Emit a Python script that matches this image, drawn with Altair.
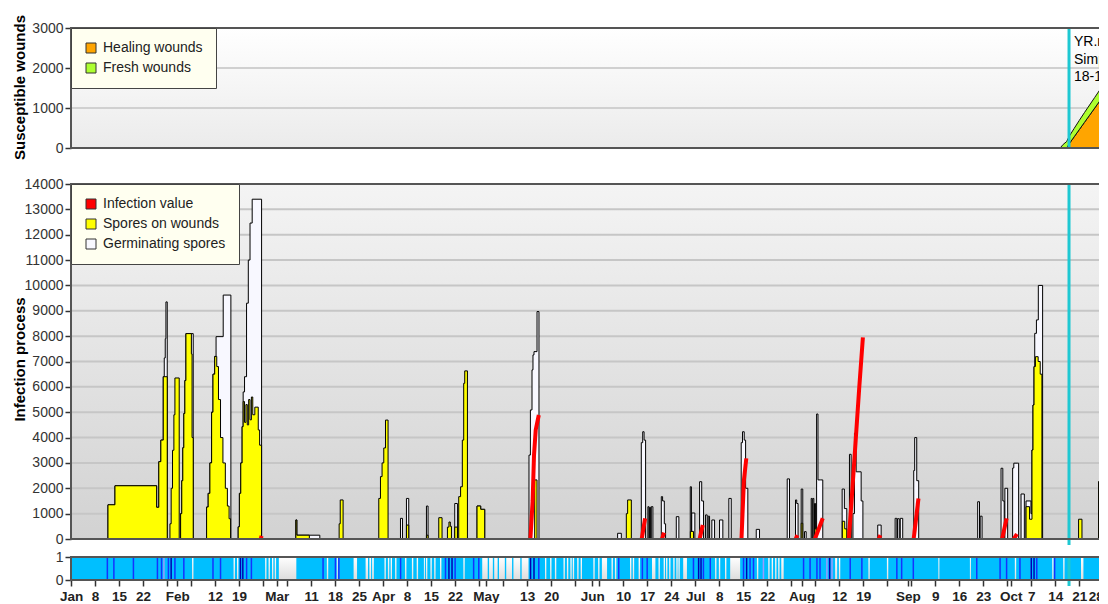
import json
import altair as alt
import pandas as pd

# ------------------------------------------------------------------ data
X_DOMAIN = [0, 301.2]          # days since Jan 1
MARKER_DAY = 291.0             # 18-10

TICK_DAYS = [0, 7, 14, 21, 28, 31, 35, 42, 49, 56, 60, 63, 70, 77, 84, 91, 98, 105, 112, 119,
             121, 126, 133, 140, 147, 152, 154, 161, 168, 175, 182, 189, 196, 203, 210, 213,
             217, 224, 231, 238, 244, 245, 252, 259, 266, 273, 274, 280, 287, 294, 301]
TICK_LABELS = ["Jan", "8", "15", "22", "", "Feb", "", "12", "19", "", "Mar", "", "11", "18", "25",
               "Apr", "8", "15", "22", "", "May", "", "13", "20", "", "Jun", "", "10", "17", "24",
               "Jul", "8", "15", "22", "", "Aug", "", "12", "19", "", "Sep", "", "9", "16", "23",
               "", "Oct", "7", "14", "21", "28"]

TOP_Y_TICKS = [0, 1000, 2000, 3000]
MID_Y_TICKS = list(range(0, 14001, 1000))
STRIP_Y_TICKS = [0, 1]

WOUND_DAYS = [288.4, 289.3, 290.3, 291.0, 292.5, 294.0, 295.5, 297.0, 298.5, 300.0, 301.2, 302.0]
HEALING = [0, 0, 0, 100, 280, 460, 640, 820, 1000, 1180, 1330, 1420]
FRESH = [0, 90, 160, 185, 210, 230, 245, 255, 265, 275, 280, 285]

SPORES = [
    [(10.78, 1350), (12.82, 2100), (24.97, 1250), (25.6, 3050), (26.2, 3900), (26.9, 6400), (28.06, 0)],
    [(28.85, 600), (29.2, 2000), (29.6, 3500), (30.0, 4900), (30.3, 6350), (31.55, 0)],
    [(31.96, 1000), (32.3, 2300), (32.6, 3600), (32.9, 4950), (33.2, 6250), (33.51, 8100), (35.1, 7300), (35.3, 4000), (35.64, 0)],
    [(39.54, 1260), (40.0, 1800), (40.5, 3000), (41.0, 5000), (41.4, 6500), (41.9, 7200), (42.5, 6800), (43.0, 5500),
     (43.6, 4000), (44.3, 3000), (45.0, 2000), (45.6, 1300), (46.1, 800), (46.53, 0)],
    [(48.75, 480), (49.1, 1800), (49.5, 3000), (49.9, 4430), (50.2, 5420), (50.6, 4600), (51.0, 5300), (51.4, 4500),
     (51.8, 5500), (52.2, 4700), (52.6, 5600), (53.0, 4900), (53.6, 5200), (54.6, 4300), (55.0, 3700), (55.57, 0)],
    [(65.56, 750), (65.85, 150), (69.5, 0)],
    [(78.18, 600), (78.5, 1540), (79.34, 0)],
    [(89.74, 1600), (90.23, 2460), (90.7, 3000), (91.2, 3590), (91.7, 4690), (92.45, 0)],
    [(97.81, 550), (98.48, 0)],
    [(103.64, 150), (104.11, 0)],
    [(107.23, 840), (108.19, 0)],
    [(109.76, 470), (110.2, 670), (110.6, 500), (110.93, 0)],
    [(111.89, 470), (112.67, 0)],
    [(113.05, 1670), (113.6, 2060), (114.1, 3900), (114.5, 6140), (114.8, 6630), (115.59, 0)],
    [(118.39, 1300), (119.46, 1170), (120.63, 0)],
    [(135.2, 2330), (135.88, 0)],
    [(161.92, 1000), (162.3, 1540), (163.38, 0)],
    [(180.6, 300), (181.5, 0)],
    [(212.91, 620), (213.37, 0)],
    [(216.9, 400), (217.4, 0)],
    [(224.9, 700), (225.6, 400), (226.2, 0), (227.0, 1000), (227.4, 0)],
    [(278.47, 1275), (279.5, 780), (280.2, 3510), (280.5, 5285), (280.8, 6800), (281.2, 7190), (282.0, 7000),
     (282.6, 6500), (283.1, 0)],
    [(293.79, 780), (294.78, 0)],
    [(299.62, 2260), (300.0, 4030), (302.0, 0)],
]

GERM = [
    [(10.78, 1350), (12.82, 2100), (24.97, 1250), (25.6, 3050), (26.2, 3900), (26.9, 6400), (27.19, 7140),
     (27.48, 7900), (27.68, 9350), (28.06, 0)],
    [(31.96, 1000), (32.3, 2300), (32.6, 3600), (32.9, 4950), (33.2, 6250), (33.51, 8100), (35.64, 0)],
    [(39.54, 1260), (40.0, 1800), (40.5, 3000), (41.0, 5000), (41.4, 6500), (41.9, 7200), (42.3, 7980), (44.38, 9620), (46.62, 0)],
    [(48.75, 480), (49.1, 1800), (49.5, 3000), (49.9, 4430), (50.2, 5800), (50.6, 6400), (51.19, 9300), (51.7, 11000),
     (52.2, 12460), (52.83, 13400), (55.57, 0)],
    [(65.56, 750), (65.85, 150), (72.55, 0)],
    [(96.07, 815), (96.65, 0)],
    [(97.81, 1600), (98.48, 0)],
    [(103.64, 1300), (104.11, 0)],
    [(111.89, 1400), (112.67, 0)],
    [(118.39, 1300), (119.46, 1170), (120.63, 0)],
    [(133.54, 3310), (133.95, 5090), (134.42, 6670), (134.7, 7260), (135.0, 7390), (135.88, 8970), (136.45, 0)],
    [(159.38, 225), (160.46, 0)],
    [(166.29, 3800), (166.7, 4230), (167.1, 3900), (167.54, 0)],
    [(168.21, 1275), (168.5, 0), (168.7, 1250), (169.0, 0), (169.2, 1275), (169.67, 0)],
    [(172.12, 1670), (172.5, 1500), (173.0, 600), (173.37, 0)],
    [(176.49, 880), (177.24, 0)],
    [(180.56, 2060), (180.9, 0), (181.0, 1025), (181.9, 0)],
    [(183.28, 2260), (183.9, 1500), (184.44, 0)],
    [(185.02, 950), (185.5, 0), (185.8, 900), (186.19, 0)],
    [(186.86, 750), (187.65, 0)],
    [(189.1, 750), (190.06, 0)],
    [(191.81, 1600), (192.51, 0)],
    [(195.42, 3800), (195.8, 4230), (196.3, 3900), (196.7, 2000), (197.35, 0)],
    [(199.8, 380), (200.76, 0)],
    [(208.83, 2370), (209.5, 0)],
    [(211.25, 1540), (211.6, 1400), (212.0, 0)],
    [(212.91, 1970), (213.37, 0)],
    [(213.87, 290), (214.36, 0)],
    [(215.82, 1600), (216.1, 0), (216.3, 1600), (216.6, 0), (216.8, 1400), (217.1, 0), (217.4, 4930), (217.8, 2330),
     (218.6, 2330), (219.2, 0)],
    [(224.85, 1970), (225.5, 1200), (226.2, 0), (226.98, 3340), (227.47, 0), (228.0, 1000), (228.44, 4170),
     (228.93, 2650), (230.39, 1500), (230.9, 0)],
    [(235.23, 550), (236.22, 0)],
    [(240.3, 815), (240.8, 0), (241.0, 800), (241.5, 0), (241.8, 815), (242.51, 0)],
    [(245.72, 2700), (246.0, 4000), (246.6, 2300), (247.17, 0)],
    [(264.37, 1470), (264.9, 0), (265.1, 900), (265.65, 0)],
    [(271.18, 2790), (271.7, 1500), (272.1, 0), (272.3, 2000), (273.11, 0)],
    [(274.56, 2800), (274.9, 2990), (275.9, 2990), (276.31, 0)],
    [(277.01, 1775), (277.97, 0)],
    [(278.47, 1500), (279.9, 1000), (280.2, 3510), (280.5, 5285), (280.8, 6800), (281.0, 8110), (281.5, 8640),
     (282.05, 10000), (283.3, 0)],
    [(299.62, 2260), (300.0, 4030), (300.4, 4760), (302.0, 0)],
]

INFECTION = [
    [(55.3, 0), (55.57, 120)],
    [(133.95, 0), (134.6, 1500), (135.0, 3300), (135.5, 4300), (136.4, 4890)],
    [(166.4, 0), (167.4, 815)],
    [(172.3, 0), (172.9, 250)],
    [(183.3, 0), (184.2, 550)],
    [(195.5, 0), (196.2, 2300), (196.9, 3180)],
    [(211.3, 0), (211.8, 150)],
    [(216.9, 0), (219.2, 815)],
    [(226.8, 0), (227.8, 1900), (228.8, 3900), (229.8, 5900), (230.9, 7950)],
    [(235.5, 0), (236.0, 150)],
    [(245.7, 0), (247.1, 1600)],
    [(271.5, 0), (272.8, 815)],
    [(274.9, 0), (275.8, 200)],
]

DRY = [(35.3, 35.7), (47.4, 47.8), (48.4, 48.8), (56.6, 57.0), (57.6, 58.0), (58.6, 59.0), (59.4, 59.8),
       (60.6, 65.7), (74.6, 75.0), (77.5, 77.8), (82.4, 83.4), (85.9, 86.6), (87.0, 87.5), (87.8, 88.3),
       (91.4, 91.8), (92.4, 92.8), (93.2, 93.6), (94.5, 94.9), (97.4, 97.8), (99.4, 99.8), (100.8, 101.2),
       (102.9, 103.2), (103.5, 103.9), (104.8, 105.2), (105.9, 106.3), (107.6, 108.0), (114.4, 114.8),
       (119.9, 121.5), (121.9, 123.0), (123.4, 124.4), (124.8, 126.5), (126.9, 128.6), (129.0, 131.0),
       (131.4, 133.4), (138.2, 138.6), (139.7, 140.1), (141.1, 141.5), (143.6, 144.0), (144.6, 145.0),
       (145.6, 146.0), (146.3, 146.7), (147.6, 148.0), (148.6, 149.0), (152.3, 152.7), (153.7, 154.1),
       (154.8, 156.3), (157.6, 158.0), (158.6, 159.0), (163.0, 163.4), (163.8, 164.2), (165.5, 165.9),
       (169.4, 170.4), (171.3, 171.7), (172.8, 173.2), (173.5, 173.9), (174.4, 174.8), (175.6, 176.0),
       (176.5, 176.9), (177.1, 177.5), (178.5, 179.6), (187.8, 188.2), (188.9, 189.3), (190.7, 191.1),
       (192.2, 195.1), (200.0, 200.4), (203.3, 203.7), (204.3, 204.7), (205.3, 205.7), (206.2, 206.6),
       (207.1, 207.8), (222.8, 223.4), (223.9, 224.3), (232.5, 232.9), (237.9, 238.3), (252.9, 253.2),
       (262.1, 262.4), (275.2, 275.6), (286.1, 286.5), (289.3, 289.7), (294.5, 295.2)]

RAIN_DAYS = [10.6, 12.5, 18.2, 25.2, 26.4, 27.1, 28.4, 29.2, 30.3, 32.9, 41.4, 43.6, 49.4, 50.1, 51.2,
             52.6, 73.5, 77.1, 78.1, 96.1, 109.2, 110.2, 111.1, 112.0, 117.4, 118.9, 134.0, 135.0, 136.4,
             159.7, 166.6, 168.0, 181.5, 183.0, 183.7, 184.4, 186.4, 196.1, 197.0, 198.0, 199.0, 201.9,
             213.6, 215.5, 217.5, 218.4, 220.4, 221.2, 221.9, 227.2, 230.6, 240.8, 242.2, 245.6, 264.1,
             270.9, 272.8, 276.7, 280.0, 280.8, 281.6, 286.8]
RAIN_KIND = ["b", "b", "b", "b", "b", "l", "b", "d", "b", "b", "b", "b", "d", "d", "b",
             "b", "b", "b", "b", "b", "b", "d", "d", "b", "b", "b", "d", "d", "b",
             "b", "b", "b", "b", "d", "d", "b", "b", "b", "d", "b", "b", "l",
             "b", "b", "b", "b", "l", "d", "l", "b", "b", "b", "b", "b", "b",
             "b", "b", "b", "d", "d", "b", "b"]

INFO_LINES = ["YR.net", "Simple", "18-10-2012"]
INFO_Y = [2650, 2200, 1775]

# ------------------------------------------------------------------ style
FONT = "Liberation Sans"
W = 1033
TURQ = "#1ec8d2"
FRAME = "#555555"

xscale = alt.Scale(domain=X_DOMAIN, nice=False, zero=False)

label_expr = f"{json.dumps(TICK_LABELS)}[indexof({json.dumps(TICK_DAYS)}, datum.value)]"
x_axis_strip = alt.Axis(
    values=TICK_DAYS, labelExpr=label_expr, labelOverlap=False, labelFont=FONT,
    labelFontSize=13.5, labelFontWeight="bold", labelColor="#222222", tickSize=6,
    tickColor="#333333", tickWidth=1.5, labelPadding=3, domain=False, grid=False, title=None,
    labelAlign={"condition": {"test": "datum.value == 301", "value": "right"}, "value": "center"},
)


def yaxis(values, title=None, title_y=0):
    kw = dict(values=values, grid=False, domain=False, tickSize=6, tickColor="#333333",
              tickWidth=1.5, labelFont=FONT, labelFontSize=14, labelColor="#333333",
              labelPadding=2, labelOverlap=False, format="d")
    if title:
        kw.update(title=title, titleFont=FONT, titleFontSize=15, titleFontWeight="bold",
                  titleColor="#000000", titleX=-51.5, titleY=title_y, titleBaseline="middle",
                  titleAlign="center", titleAngle=270)
    else:
        kw.update(title=None)
    return alt.Axis(**kw)


def X(field, axis=None):
    return alt.X(field, type="quantitative", scale=xscale, axis=axis)


def grad(c0, c1):
    return {"gradient": "linear", "x1": 0, "y1": 0, "x2": 0, "y2": 1,
            "stops": [{"offset": 0, "color": c0}, {"offset": 1, "color": c1}]}


def box_df(ymax):
    return pd.DataFrame({"x0": [X_DOMAIN[0]], "x1": [X_DOMAIN[1]], "y0": [0], "y1": [ymax]})


def legend():
    return alt.Legend(title=None, orient="top-left", offset=0, fillColor="#fffff0",
                      strokeColor="#444444", padding=13, cornerRadius=0, symbolType="square",
                      symbolSize=100, symbolStrokeColor="#333333", symbolStrokeWidth=1,
                      symbolOpacity=1, labelFont=FONT, labelFontSize=14, labelColor="#222222",
                      rowPadding=6, labelOffset=5)


def panel_layers(ymax, yscale, yax, xax, bg, grid_vals, grid_color):
    bgl = alt.Chart(box_df(ymax)).mark_rect(fill=bg).encode(
        x=X("x0", xax), x2="x1", y=alt.Y("y0:Q", scale=yscale, axis=yax), y2="y1")
    frame = alt.Chart(box_df(ymax)).mark_rect(filled=False, color=FRAME, strokeWidth=2).encode(
        x=X("x0", xax), x2="x1", y=alt.Y("y0:Q", scale=yscale, axis=yax), y2="y1")
    layers = [bgl]
    if grid_vals:
        layers.append(alt.Chart(pd.DataFrame({"g": grid_vals})).mark_rule(
            color=grid_color, strokeWidth=2).encode(y=alt.Y("g:Q", scale=yscale, axis=yax)))
    return layers, frame


# ------------------------------------------------------------------ top panel
top_scale = alt.Scale(domain=[0, 3000], range=[120, 0], nice=False, zero=False)
top_axis = yaxis(TOP_Y_TICKS, "Susceptible wounds", 59)
top_layers, top_frame = panel_layers(3000, top_scale, top_axis, None, grad("#ffffff", "#ebebeb"),
                                     [1000, 2000], "#d0d0d0")
w_rows = []
for i, d in enumerate(WOUND_DAYS):
    w_rows.append({"day": d, "value": HEALING[i], "series": "Healing wounds", "ord": 0})
    w_rows.append({"day": d, "value": FRESH[i], "series": "Fresh wounds", "ord": 1})
wounds = alt.Chart(pd.DataFrame(w_rows)).mark_area(
    stroke="#111111", strokeWidth=1, clip=True, interpolate="linear").encode(
    x=X("day"), y=alt.Y("value:Q", stack="zero", scale=top_scale, axis=top_axis),
    fill=alt.Fill("series:N", scale=alt.Scale(domain=["Healing wounds", "Fresh wounds"],
                                              range=["#ffa500", "#adff2f"]), legend=legend()),
    order=alt.Order("ord:Q"))
top_marker = alt.Chart(pd.DataFrame({"day": [MARKER_DAY], "y0": [0], "y1": [3000]})).mark_rule(
    color=TURQ, strokeWidth=3).encode(x=X("day"), y=alt.Y("y0:Q", scale=top_scale, axis=top_axis), y2="y1")
info = alt.Chart(pd.DataFrame({"day": [MARKER_DAY] * 3, "y": INFO_Y, "t": INFO_LINES})).mark_text(
    align="left", baseline="middle", dx=5, font=FONT, fontSize=14, color="#000000", clip=True).encode(
    x=X("day"), y=alt.Y("y:Q", scale=top_scale, axis=top_axis), text="t:N")
top = alt.layer(*top_layers, wounds, top_marker, info, top_frame).properties(width=W, height=138)

# ------------------------------------------------------------------ middle panel
mid_scale = alt.Scale(domain=[0, 14000], nice=False, zero=False)
mid_axis = yaxis(MID_Y_TICKS, "Infection process", 175)
mid_layers, mid_frame = panel_layers(14000, mid_scale, mid_axis, None, grad("#f4f4f4", "#d2d2d2"),
                                     list(range(1000, 14000, 1000)), "#c6c6c6")
mid_fill = alt.Scale(domain=["Infection value", "Spores on wounds", "Germinating spores"],
                     range=["#ff0000", "#ffff00", "#f8f8ff"])


def flat(spikes, series):
    return pd.DataFrame([{"day": d, "value": v, "series": series} for sp in spikes for d, v in sp])


germ = alt.Chart(flat(GERM, "Germinating spores")).mark_area(
    interpolate="step-after", stroke="#000000", strokeWidth=1, clip=True).encode(
    x=X("day"), y=alt.Y("value:Q", stack=False, scale=mid_scale, axis=mid_axis),
    fill=alt.Fill("series:N", scale=mid_fill, legend=legend()))
spores = alt.Chart(flat(SPORES, "Spores on wounds")).mark_area(
    interpolate="step-after", stroke="#000000", strokeWidth=1, clip=True).encode(
    x=X("day"), y=alt.Y("value:Q", stack=False, scale=mid_scale, axis=mid_axis),
    fill=alt.Fill("series:N", scale=mid_fill, legend=legend()))
inf_df = pd.DataFrame([{"day": d, "value": v, "seg": i} for i, sp in enumerate(INFECTION) for d, v in sp])
infection = alt.Chart(inf_df).mark_line(color="#ff0000", strokeWidth=4, clip=True).encode(
    x=X("day"), y=alt.Y("value:Q", scale=mid_scale, axis=mid_axis), detail="seg:N")
mid_marker = alt.Chart(pd.DataFrame({"day": [MARKER_DAY], "y0": [-240], "y1": [14000]})).mark_rule(
    color=TURQ, strokeWidth=3).encode(x=X("day"), y=alt.Y("y0:Q", scale=mid_scale, axis=mid_axis), y2="y1")
mid = alt.layer(*mid_layers, germ, spores, infection, mid_marker, mid_frame).properties(width=W, height=355)

# ------------------------------------------------------------------ strip
s_scale = alt.Scale(domain=[0, 1], nice=False, zero=False)
s_axis = yaxis(STRIP_Y_TICKS)
s_layers, s_frame = panel_layers(1, s_scale, s_axis, x_axis_strip, grad("#ffffff", "#dcdcdc"), None, None)
wet = []
cur = X_DOMAIN[0]
for a, b in DRY:
    wet.append({"s": cur, "e": a, "y0": 0, "y1": 1})
    cur = b
wet.append({"s": cur, "e": X_DOMAIN[1], "y0": 0, "y1": 1})
wet_l = alt.Chart(pd.DataFrame(wet)).mark_rect(color="#00bfff").encode(
    x=X("s", x_axis_strip), x2="e", y=alt.Y("y0:Q", scale=s_scale, axis=s_axis), y2="y1")
rain_df = pd.DataFrame({"day": RAIN_DAYS, "kind": RAIN_KIND, "y0": 0, "y1": 1})
rain = alt.Chart(rain_df).mark_rule(strokeWidth=1.5).encode(
    x=X("day", x_axis_strip), y=alt.Y("y0:Q", scale=s_scale, axis=s_axis), y2="y1",
    color=alt.Color("kind:N", scale=alt.Scale(domain=["b", "d", "l"],
                                              range=["#1432ff", "#0000b4", "#9a9aff"]), legend=None))
s_marker = alt.Chart(pd.DataFrame({"day": [MARKER_DAY], "y0": [-0.26], "y1": [1]})).mark_rule(
    color=TURQ, strokeWidth=3).encode(x=X("day", x_axis_strip), y=alt.Y("y0:Q", scale=s_scale, axis=s_axis), y2="y1")
strip = alt.layer(*s_layers, wet_l, rain, s_marker, s_frame).properties(width=W, height=23)

# ------------------------------------------------------------------ assemble
chart = (
    alt.vconcat(top, mid, strip, spacing=18, bounds="flush")
    .resolve_scale(fill="independent", color="independent")
    .properties(padding={"left": 4, "top": 6, "right": -6, "bottom": 0})
    .configure(font=FONT)
    .configure_view(stroke="transparent", strokeWidth=0)
)

chart.save("out.html", embed_options={"renderer": "svg", "actions": False})
